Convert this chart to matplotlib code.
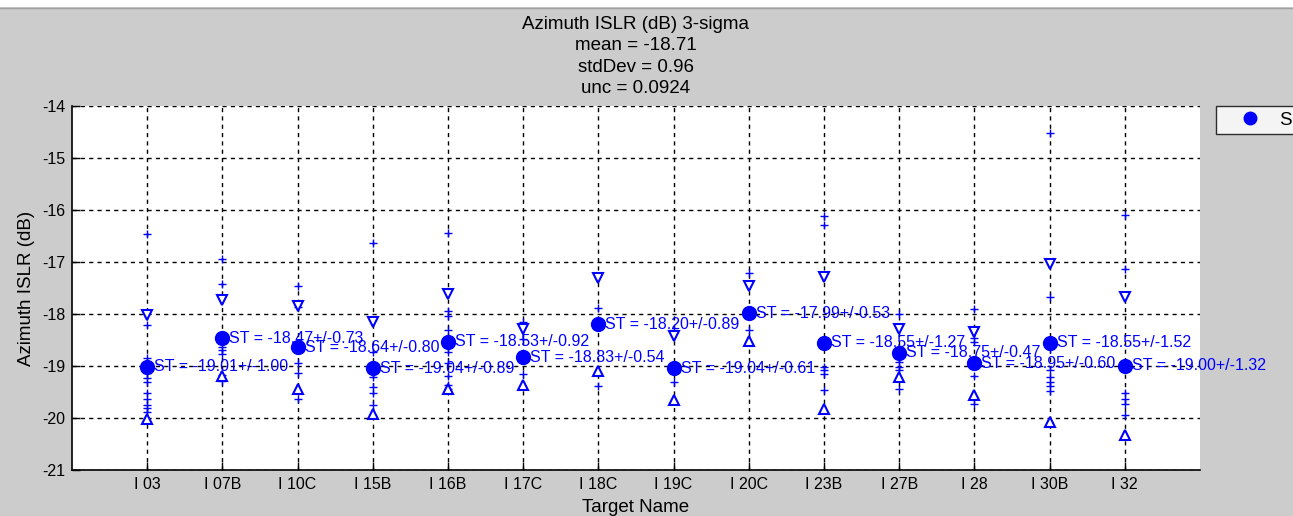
import matplotlib
matplotlib.use('Agg')
import matplotlib.pyplot as plt
from matplotlib.patches import Rectangle
import numpy as np

plt.rcParams['font.family'] = ['Liberation Sans', 'DejaVu Sans']
plt.rcParams['axes.unicode_minus'] = False

# target names along the x axis
targets = ['I 03', 'I 07B', 'I 10C', 'I 15B', 'I 16B', 'I 17C', 'I 18C',
           'I 19C', 'I 20C', 'I 23B', 'I 27B', 'I 28', 'I 30B', 'I 32']
# mean ISLR per target (dB) and its std
means = [-19.01, -18.47, -18.64, -19.04, -18.53, -18.83, -18.20,
         -19.04, -17.99, -18.55, -18.75, -18.95, -18.55, -19.00]
stds = [1.00, 0.73, 0.80, 0.89, 0.92, 0.54, 0.89,
        0.61, 0.53, 1.27, 0.47, 0.60, 1.52, 1.32]
samples = [
    [-16.47, -18.21, -18.85, -19.14, -19.24, -19.30, -19.51, -19.64, -19.75, -19.81, -19.88],
    [-16.95, -17.42, -18.64, -18.70, -18.77, -19.18, -19.28],
    [-17.46, -17.87, -18.95, -19.14, -19.64],
    [-16.63, -18.73, -19.14, -19.21, -19.40, -19.51, -19.75],
    [-16.45, -17.94, -18.03, -18.31, -18.73, -18.94, -19.20, -19.37, -19.45],
    [-18.16, -18.49, -19.15],
    [-17.88, -19.39],
    [-18.31, -19.31],
    [-17.21, -18.31],
    [-16.12, -16.28, -19.02, -19.08, -19.16, -19.47],
    [-18.00, -18.83, -18.92, -19.02, -19.08, -19.45],
    [-17.90, -18.47, -18.54, -19.20, -19.74],
    [-14.51, -17.67, -18.67, -19.08, -19.21, -19.31, -19.39, -19.48],
    [-16.09, -17.14, -19.52, -19.63, -19.74, -19.95],
]

title_lines = ['Azimuth ISLR (dB) 3-sigma', 'mean = -18.71', 'stdDev = 0.96', 'unc = 0.0924']

W, H = 1293, 516
fig = plt.figure(figsize=(W / 100, H / 100), dpi=100, facecolor='#cccccc')
# thin white strip at the very top of the window
fig.patches.append(Rectangle((0, 1 - 7 / H), 1, 7 / H, transform=fig.transFigure,
                             facecolor='white', edgecolor='none'))
fig.add_artist(plt.Line2D([0, 1], [1 - 7.5 / H, 1 - 7.5 / H], color='#a0a0a0', lw=1))

ax = fig.add_axes([72 / W, 1 - 470 / H, (1200 - 72) / W, (470 - 106) / H])
ax.set_facecolor('white')

blue = (0, 0, 1)
xs = np.arange(1, len(targets) + 1)
means_a = np.array(means)
stds_a = np.array(stds)

for i, vals in enumerate(samples):
    ax.plot([xs[i]] * len(vals), vals, '+', color=blue, ms=5.5, mew=1.0, zorder=3)

ax.plot(xs, means_a + stds_a, 'v', color=blue, ms=7, mew=1.5, mfc='white', zorder=4)
ax.plot(xs, means_a - stds_a, '^', color=blue, ms=7, mew=1.5, mfc='white', zorder=4)
ax.plot(xs, means_a, 'o', color=blue, ms=10, zorder=5, label='ST', linestyle='none')

for x, m, s in zip(xs, means, stds):
    ax.annotate('ST = %.2f+/-%.2f' % (m, s), (x, m), xytext=(7, 0),
                textcoords='offset pixels', va='center', ha='left',
                color=blue, fontsize=11.5, zorder=6)

ax.set_xlim(0, len(targets) + 1)
ax.set_ylim(-21, -14)
ax.set_xticks(xs)
ax.set_xticklabels(targets)
ax.set_yticks(np.arange(-21, -13))
ax.tick_params(direction='in', length=6, width=1, labelsize=11.5, colors='black', pad=5)
ax.grid(True, color='black', linestyle=(0, (3, 3)), linewidth=1)
ax.set_axisbelow(True)
for side in ['top', 'right']:
    ax.spines[side].set_visible(False)
for side in ['left', 'bottom']:
    ax.spines[side].set_linewidth(1.2)

ax.set_xlabel('Target Name', fontsize=13.5, labelpad=5)
ax.set_ylabel('Azimuth ISLR (dB)', fontsize=13.5, labelpad=5)
ax.set_title('\n'.join(title_lines), fontsize=13.5, pad=9, linespacing=1.35)

leg = fig.legend(loc='upper left', bbox_to_anchor=(1216 / W, 1 - 106 / H),
                 borderaxespad=0, fontsize=13.5, frameon=True, fancybox=False,
                 handlelength=3.0, borderpad=0.3, handletextpad=0.1, markerscale=0.9)
leg.get_frame().set_edgecolor('black')
leg.get_frame().set_linewidth(1)
leg.get_texts()[0].set_text('ST                ')

fig.savefig('out.png', dpi=100, facecolor=fig.get_facecolor())
